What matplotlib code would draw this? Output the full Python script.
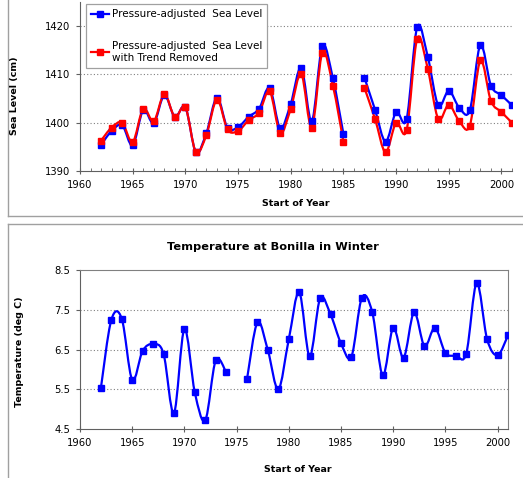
import numpy as np
import matplotlib
matplotlib.use('Agg')
import matplotlib.pyplot as plt
from matplotlib.path import Path
from matplotlib.patches import PathPatch
from matplotlib.lines import Line2D
from matplotlib.ticker import MultipleLocator

nan = np.nan

years = np.arange(1962, 2002)

# pressure-adjusted sea level (cm), 1986 missing
sea_level = [1395.4, 1398.3, 1399.5, 1395.3, 1402.6, 1399.9, 1405.7, 1401.2,
             1403.2, 1393.9, 1397.9, 1405.2, 1398.9, 1399.1, 1401.2, 1402.9,
             1407.2, 1398.9, 1403.9, 1411.4, 1400.3, 1415.9, 1409.2, 1397.7,
             nan, 1409.3, 1402.7, 1396.1, 1402.2, 1400.8, 1419.8, 1413.7,
             1403.6, 1406.6, 1403.1, 1402.6, 1416.1, 1407.7, 1405.7, 1403.6]

sea_level_detrended = [1396.3, 1399.0, 1400.0, 1396.0, 1402.9, 1400.3, 1405.9, 1401.2,
                       1403.2, 1393.9, 1397.5, 1404.8, 1398.6, 1398.3, 1400.5, 1402.1,
                       1406.5, 1397.9, 1402.9, 1410.1, 1399.0, 1414.5, 1407.7, 1396.1,
                       nan, 1407.2, 1400.8, 1393.9, 1400.0, 1398.5, 1417.4, 1411.2,
                       1400.8, 1403.7, 1400.3, 1399.4, 1412.9, 1404.5, 1402.2, 1400.0]

# winter temperature at Bonilla (deg C), 1975 missing
temperature = [5.53, 7.25, 7.28, 5.74, 6.47, 6.64, 6.40, 4.90, 7.02, 5.42,
               4.72, 6.23, 5.93, nan, 5.76, 7.19, 6.48, 5.50, 6.76, 7.95,
               6.33, 7.79, 7.39, 6.66, 6.32, 7.81, 7.44, 5.85, 7.05, 6.30,
               7.44, 6.59, 7.05, 6.42, 6.35, 6.40, 8.18, 6.76, 6.36, 6.86]

W, H = 523, 478
BLUE = '#0000ff'
RED = '#ff0000'
GRID = '#808080'
FRAME = '#a0a0a0'


def smooth_path(x, y):
    '''Excel-style smoothed line: cubic beziers through each run of points'''
    x = np.asarray(x, float)
    y = np.asarray(y, float)
    verts, codes = [], []
    ok = ~np.isnan(y)
    i = 0
    while i < len(y):
        if not ok[i]:
            i += 1
            continue
        j = i
        while j < len(y) and ok[j]:
            j += 1
        P = np.column_stack([x[i:j], y[i:j]])
        n = len(P)
        verts.append(P[0]); codes.append(Path.MOVETO)
        for k in range(n - 1):
            p0 = P[k - 1] if k > 0 else P[k]
            p1, p2 = P[k], P[k + 1]
            p3 = P[k + 2] if k + 2 < n else P[k + 1]
            verts += [p1 + (p2 - p0) / 6, p2 - (p3 - p1) / 6, p2]
            codes += [Path.CURVE4] * 3
        i = j
    return Path(verts, codes)


def draw_series(ax, x, y, color, label=None):
    ax.add_patch(PathPatch(smooth_path(x, y), fc='none', ec=color, lw=1.6,
                           zorder=3))
    ax.plot(x, y, ls='none', marker='s', ms=4.2, color=color, zorder=4)
    # proxy for the legend
    return Line2D([], [], color=color, lw=1.6, marker='s', ms=4.2, label=label)


def px(x0, y0, w, h):
    return [x0 / W, 1 - (y0 + h) / H, w / W, h / H]


plt.rcParams['font.family'] = 'DejaVu Sans'
fig = plt.figure(figsize=(W / 100, H / 100), dpi=100)

# ---- panel frames
fig.add_artist(Line2D([8 / W, 8 / W], [1 - 216 / H, 1.0], color=FRAME, lw=1))
fig.add_artist(Line2D([8 / W, 1.0], [1 - 216 / H, 1 - 216 / H], color=FRAME, lw=1))
fig.add_artist(Line2D([8 / W, 8 / W], [0, 1 - 224 / H], color=FRAME, lw=1))
fig.add_artist(Line2D([8 / W, 1.0], [1 - 224 / H, 1 - 224 / H], color=FRAME, lw=1))

# ---- top: sea level
ax1 = fig.add_axes(px(80, 2, 432, 169))
h1 = draw_series(ax1, years, sea_level, BLUE, 'Pressure-adjusted  Sea Level')
h2 = draw_series(ax1, years, sea_level_detrended, RED,
                 'Pressure-adjusted  Sea Level\nwith Trend Removed')
ax1.set_xlim(1960, 2001)
ax1.set_ylim(1390, 1425)
ax1.set_yticks([1390, 1400, 1410, 1420])
ax1.xaxis.set_major_locator(MultipleLocator(5))
ax1.xaxis.set_minor_locator(MultipleLocator(1))
for g in [1400, 1410, 1420]:
    ax1.axhline(g, color=GRID, lw=0.8, ls=(0, (1, 2)), zorder=1)
for s in ['top', 'right']:
    ax1.spines[s].set_visible(False)
leg = ax1.legend(handles=[h1, h2], loc='lower left',
                 bbox_to_anchor=(86 / W, 1 - 68 / H),
                 bbox_transform=fig.transFigure, fontsize=7.5, frameon=True,
                 fancybox=False, edgecolor=FRAME, framealpha=1,
                 labelspacing=2.1, handlelength=1.7, handletextpad=0.25,
                 borderpad=0.5, borderaxespad=0)
leg.get_frame().set_linewidth(0.9)
fig.text(296 / W, 1 - 204 / H, 'Start of Year', ha='center', va='center',
         fontsize=6.8, fontweight='bold')
fig.text(15 / W, 1 - 96 / H, 'Sea Level (cm)', ha='center', va='center',
         rotation=90, fontsize=6.8, fontweight='bold')

# ---- bottom: temperature
ax2 = fig.add_axes(px(80, 270.3, 428, 158.7))
draw_series(ax2, years, temperature, BLUE)
ax2.set_xlim(1960, 2001)
ax2.set_ylim(4.5, 8.5)
ax2.set_yticks([4.5, 5.5, 6.5, 7.5, 8.5])
ax2.set_yticklabels(['4.5', '5.5', '6.5', '7.5', '8.5'])
ax2.xaxis.set_major_locator(MultipleLocator(5))
for g in [5.5, 6.5, 7.5]:
    ax2.axhline(g, color=GRID, lw=0.8, ls=(0, (1, 2)), zorder=1)
ax2.spines['top'].set_color(GRID)
ax2.spines['right'].set_color(GRID)
fig.text(273 / W, 1 - 247 / H, 'Temperature at Bonilla in Winter',
         ha='center', va='center', fontsize=8.2, fontweight='bold')
fig.text(298 / W, 1 - 470 / H, 'Start of Year', ha='center', va='center',
         fontsize=6.8, fontweight='bold')
fig.text(20 / W, 1 - 352 / H, 'Temperature (deg C)', ha='center', va='center',
         rotation=90, fontsize=6.8, fontweight='bold')

for ax in (ax1, ax2):
    ax.spines['left'].set_color('#606060')
    ax.spines['bottom'].set_color('#606060')
    ax.tick_params(axis='both', which='major', labelsize=7.2, color='#606060',
                   length=3, width=0.8, pad=4)
    ax.tick_params(axis='x', which='major', direction='inout', length=5)
    ax.tick_params(axis='x', which='minor', direction='in', length=2.5,
                   color='#606060')

plt.savefig('out.png', dpi=100)
